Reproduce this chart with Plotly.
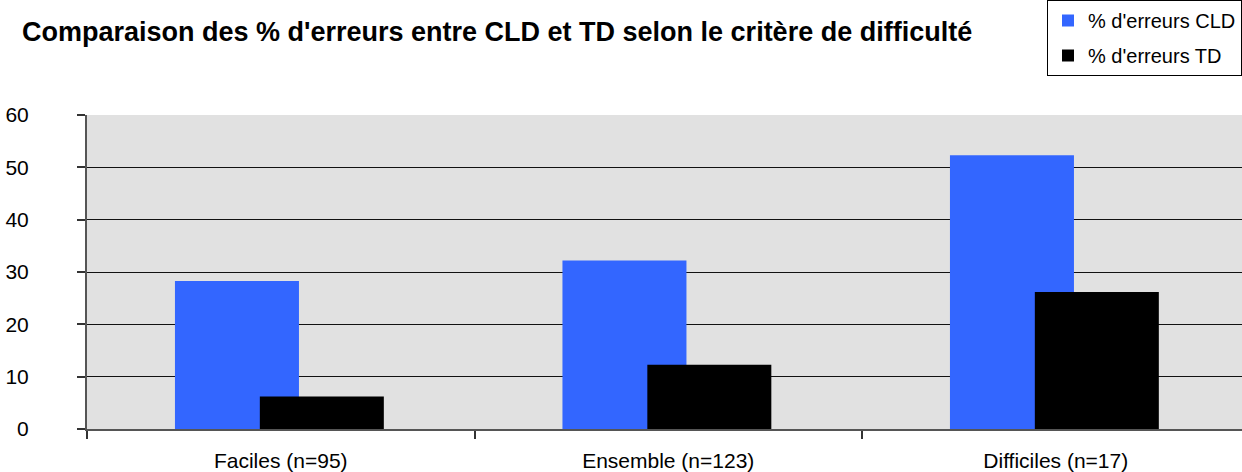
import plotly.graph_objects as go

categories = ["Faciles (n=95)", "Ensemble (n=123)", "Difficiles (n=17)"]
cld = [28.3, 32.2, 52.3]
td = [6.2, 12.3, 26.2]
series_names = ["% d'erreurs CLD", "% d'erreurs TD"]
y_ticks = [0, 10, 20, 30, 40, 50, 60]

fig = go.Figure()
fig.add_trace(go.Bar(x=categories, y=cld, name=series_names[0], legendgroup="a",
                     marker=dict(color="#3366FF", line=dict(width=0)),
                     width=0.32, offset=-0.273))
fig.add_trace(go.Bar(x=categories, y=td, name=series_names[1], legendgroup="b",
                     marker=dict(color="#000000", line=dict(width=0)),
                     width=0.32, offset=-0.054))

fig.update_layout(
    width=1242, height=472,
    barmode="overlay",
    paper_bgcolor="white",
    plot_bgcolor="#E1E1E1",
    margin=dict(l=87, r=0, t=115, b=43, autoexpand=False),
    font=dict(family="Liberation Sans, Arial, sans-serif", color="black"),
    title=dict(text="<b>Comparaison des % d'erreurs entre CLD et TD selon le critère de difficulté</b>",
               x=22/1242, xanchor="left", xref="container",
               y=1-32/472, yanchor="middle", yref="container",
               font=dict(size=27, color="black")),
    legend=dict(x=1, xanchor="right", y=1, yanchor="top",
                xref="container", yref="container",
                bgcolor="white", bordercolor="black", borderwidth=1,
                font=dict(size=20), traceorder="grouped",
                itemwidth=30, tracegroupgap=6),
    showlegend=True,
)
fig.update_yaxes(range=[0, 60], tickvals=y_ticks, showgrid=True,
                 gridcolor="#111111", gridwidth=1,
                 showline=True, linecolor="#555555", linewidth=2,
                 ticks="outside", ticklen=8, tickcolor="#333333", tickwidth=2,
                 ticklabelstandoff=44,
                 tickfont=dict(size=21), zeroline=False)
fig.update_xaxes(showline=True, linecolor="#555555", linewidth=2,
                 ticks="outside", ticklen=8, tickcolor="#333333", tickwidth=2,
                 tickson="boundaries", tickfont=dict(size=21),
                 ticklabelstandoff=12,
                 showgrid=False, range=[-0.5, -0.5 + 1155/387.5])

fig.write_html("out.html", config={"displayModeBar": False},
               post_script="document.body.style.margin='0';document.body.style.padding='0';")
